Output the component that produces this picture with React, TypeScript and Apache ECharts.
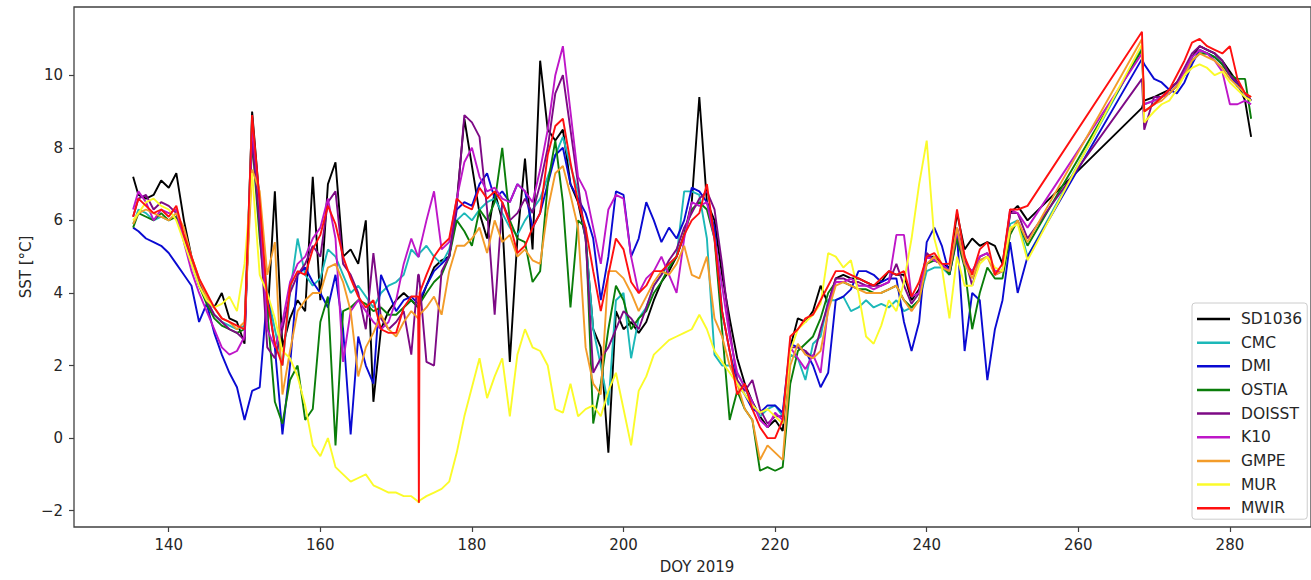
import React, { useEffect, useRef } from "react";
import * as echarts from "echarts";

// Day of year 2019 (shared x positions of all series)
const days = [
  135.3,
  136, 137, 138, 139, 140, 141, 142,
  143, 144, 145, 146, 147, 148, 149, 150,
  151, 152, 153, 154, 155, 156, 157, 158, 159, 160,
  161, 162, 163, 164, 165, 166, 167, 168, 169, 170, 171, 172,
  172.9, 173, 173.1,
  174, 175, 176, 177, 178, 179, 180, 181, 182, 183,
  184, 185, 186, 187, 188, 189, 190, 191, 192, 193,
  194, 195, 196, 197, 198, 199, 200, 201, 202, 203,
  204, 205, 206, 207, 208, 209, 210, 211, 212, 213,
  214, 215, 216, 217, 218, 219, 220, 221, 222, 223,
  224, 225, 226, 227, 228, 229, 230, 231, 232, 233,
  234, 235, 236, 237, 238, 239, 240, 241, 242, 243,
  244, 245, 246, 247, 248, 249, 250, 251, 252, 253.3,
  268.4, 268.7,
  270, 271, 272, 273, 274, 275, 276, 277, 278, 279, 280, 281, 282,
  282.8,
];

const sd1036 = [
  7.2,
  6.7, 6.6, 6.7, 7.1, 6.9, 7.3, 6.0,
  5.0, 4.3, 3.8, 3.6, 4.0, 3.3, 3.2, 2.6,
  9.0, 6.5, 3.2, 6.8, 2.5, 3.3, 3.8, 3.5, 7.2, 3.8,
  7.0, 7.6, 5.0, 5.2, 4.8, 6.0, 1.0, 3.0, 3.5, 3.8, 4.0, 3.8,
  3.6, 3.6, 3.7,
  4.2, 4.7, 4.9, 5.0, 6.5, 8.8, 7.5, 6.2, 5.5, 6.8,
  6.0, 2.1, 5.5, 7.7, 5.2, 10.4, 8.5, 8.2, 8.5, 7.0,
  6.5, 5.5, 3.0, 2.5, -0.4, 3.5, 3.0, 3.2, 2.9, 3.2,
  3.8, 4.3, 4.6, 5.0, 5.6, 6.5, 9.4, 6.5, 6.0, 4.5,
  3.3, 2.2, 1.5, 1.0, 0.6, 0.3, 0.5, 0.2, 2.5, 3.3,
  3.2, 3.5, 4.2, 3.7, 4.4, 4.5, 4.4, 4.4, 4.3, 4.2,
  4.3, 4.6, 4.5, 4.5, 3.8, 4.1, 5.0, 5.0, 4.8, 4.7,
  6.2, 5.2, 5.5, 5.3, 5.4, 5.3, 4.8, 6.2, 6.4, 6.0,
  9.1, 9.3,
  9.4, 9.5, 9.6, 9.8, 10.1, 10.5, 10.8, 10.7, 10.6, 10.4, 10.1, 9.8, 9.3,
  8.3,
];

const cmc = [
  5.9,
  6.3, 6.2, 6.0, 6.1, 6.0, 6.2, 5.5,
  4.8, 4.2, 3.8, 3.4, 3.2, 3.1, 3.0, 3.1,
  8.8, 6.0, 4.0, 3.0, 2.0, 4.0, 5.5, 4.5, 4.2, 4.4,
  5.2, 5.0, 4.5, 4.0, 4.2, 3.9, 3.6, 4.0, 4.2, 4.3, 4.5, 5.2,
  5.0, 5.0, 5.1,
  5.3, 5.0, 4.8, 5.2, 6.0, 6.2, 6.0, 6.3, 6.5, 6.6,
  6.2, 5.8, 5.6, 6.0, 6.3, 6.6, 7.2, 7.8, 8.3, 7.5,
  6.8, 5.5, 3.0, 2.0, 0.9, 3.8, 4.0, 2.2, 3.3, 3.6,
  4.2, 4.5, 4.8, 5.0, 6.8, 6.8, 6.7, 5.5, 2.3, 2.0,
  2.0, 1.8, 1.4, 0.9, 0.6, 0.8, 0.9, 0.6, 2.3, 2.2,
  1.6, 2.6, 2.8, 3.8, 3.8, 3.9, 3.5, 3.6, 3.8, 3.6,
  3.7, 3.6, 3.8, 3.5, 3.6, 3.8, 4.6, 4.7, 4.7, 4.5,
  5.6, 4.8, 4.6, 4.9, 5.0, 4.6, 4.6, 5.9, 6.0, 5.0,
  10.75, 9.2,
  9.3, 9.4, 9.5, 9.7, 10.0, 10.4, 10.6, 10.6, 10.5, 10.3, 10.0, 9.7, 9.5,
  9.3,
];

const dmi = [
  5.8,
  5.7, 5.5, 5.4, 5.3, 5.1, 4.8, 4.5,
  4.2, 3.2, 3.7, 2.9, 2.3, 1.8, 1.4, 0.5,
  1.3, 1.4, 4.0, 2.5, 0.1, 2.0, 4.5, 4.7, 4.3, 4.0,
  3.6, 4.5, 3.0, 0.1, 2.8, 2.0, 1.5, 4.5, 4.0, 3.5, 3.8, 3.9,
  3.7, 3.7, 3.8,
  4.2, 4.6, 4.8, 5.0, 6.3, 6.5, 6.4, 7.0, 7.3, 6.6,
  6.8, 6.5, 7.0, 6.8, 5.8, 6.2, 7.0, 7.8, 8.0, 7.0,
  6.6, 6.2, 5.5, 3.8, 5.0, 6.8, 6.7, 5.0, 5.5, 6.5,
  6.0, 5.4, 5.8, 5.5, 6.0, 6.9, 6.8, 6.5, 5.8, 3.5,
  2.4, 1.5, 1.2, 0.8, 0.7, 0.9, 0.9, 0.7, 2.6, 2.5,
  2.4, 2.0, 1.4, 1.8, 3.8, 3.9, 4.1, 4.6, 4.6, 4.5,
  4.3, 4.4, 4.4, 3.2, 2.4, 3.2, 5.4, 5.8, 5.3, 4.5,
  5.6, 2.4, 4.0, 3.8, 1.6, 3.0, 3.8, 5.4, 4.0, 5.0,
  10.45, 10.3,
  9.9, 9.8, 9.6, 9.5, 9.8, 10.3, 10.7, 10.6, 10.5, 10.3, 10.0, 9.7, 9.5,
  9.3,
];

const ostia = [
  5.8,
  6.2, 6.1, 6.0, 6.2, 6.0, 6.1, 5.5,
  4.9, 4.2, 3.7, 3.3, 3.1, 3.0, 2.9, 3.0,
  8.2, 5.5, 3.5, 1.0, 0.4, 1.6, 2.0, 0.5, 0.8, 3.2,
  3.9, -0.2, 3.5, 3.6, 3.8, 3.7, 3.5, 3.6, 3.4, 3.4, 3.6, 3.8,
  3.6, 3.6, 3.7,
  4.0, 4.3, 4.5, 5.0, 6.0, 5.7, 5.3, 6.3, 6.0, 6.5,
  8.0, 6.0, 5.5, 5.4, 4.3, 4.6, 7.0, 8.2, 6.5, 3.6,
  6.0, 5.8, 0.4, 1.5, 3.0, 4.2, 3.8, 3.0, 3.3, 3.5,
  4.0, 4.3, 4.7, 5.0, 5.6, 6.3, 6.5, 6.3, 5.5, 3.0,
  0.5, 1.3, 0.8, 0.5, -0.9, -0.8, -0.9, -0.8, 1.5, 2.4,
  2.6, 2.8, 3.3, 4.0, 4.3, 4.3, 4.2, 4.1, 4.1, 4.0,
  4.0, 4.1, 4.2, 3.8, 3.6, 3.8, 4.8, 4.9, 4.8, 4.5,
  5.5, 4.7, 3.0, 4.0, 4.7, 4.4, 4.4, 5.6, 6.0, 5.3,
  10.7, 9.0,
  9.2, 9.4, 9.5, 9.7, 10.0, 10.4, 10.6, 10.6, 10.5, 10.3, 10.0, 9.9, 9.9,
  8.8,
];

const doisst = [
  6.1,
  6.6, 6.7, 6.3, 6.5, 6.4, 6.2, 5.5,
  4.9, 4.3, 3.8, 3.4, 3.2, 3.0, 2.9, 2.7,
  8.3, 5.8, 2.5, 2.2, 3.0, 4.0, 4.5, 4.8, 5.3, 5.0,
  6.5, 6.8, 4.8, 4.5, 4.0, 3.0, 5.1, 3.3, 3.0, 3.2, 3.5, 2.3,
  4.5, 4.5, 4.3,
  2.1, 2.0, 4.6, 5.0, 6.4, 8.9, 8.7, 8.3, 6.3, 3.4,
  6.5, 6.0, 6.2, 6.6, 6.2, 7.0, 8.0, 9.5, 10.0, 8.5,
  7.0, 5.5, 1.8, 2.2, 2.5, 3.0, 3.5, 3.3, 3.0, 3.6,
  4.2, 4.5, 4.9, 5.2, 5.8, 6.2, 6.6, 6.8, 6.3, 4.8,
  3.0, 1.6, 1.3, 1.6, 0.8, 0.4, 0.6, 0.6, 2.5, 2.5,
  2.4, 2.2, 3.0, 3.7, 4.4, 4.4, 4.3, 4.3, 4.2, 4.2,
  4.2, 4.3, 4.8, 4.2, 3.7, 4.0, 5.1, 4.9, 4.8, 4.6,
  5.8, 5.0, 4.2, 5.0, 5.1, 4.5, 4.6, 6.2, 6.2, 5.5,
  9.9, 8.5,
  9.4, 9.4, 9.6, 9.8, 10.2, 10.6, 10.8, 10.7, 10.6, 10.4, 10.0, 9.8, 9.5,
  9.3,
];

const k10 = [
  6.3,
  6.8, 6.5, 6.0, 6.3, 6.2, 6.3, 5.4,
  4.6, 4.0, 3.5, 3.0, 2.5, 2.3, 2.4, 2.8,
  8.6, 6.5, 3.0, 2.5, 3.2, 4.3, 4.8, 5.0, 5.5, 5.8,
  6.6, 5.5, 2.1, 3.5, 3.8, 3.5, 3.2, 3.0, 3.2, 3.8, 4.8, 5.5,
  5.0, 5.0, 5.2,
  6.0, 6.8, 5.2, 5.4, 6.6, 7.6, 8.0, 7.2, 6.8, 6.9,
  6.6, 6.5, 7.0, 6.8, 6.5, 7.4, 8.5, 10.0, 10.8, 9.0,
  7.2, 6.8, 5.8, 4.8, 6.3, 6.7, 6.6, 5.0, 4.0, 4.4,
  4.6, 5.0, 4.5, 4.0, 5.5, 6.5, 6.4, 6.5, 5.5, 4.2,
  2.8, 1.8, 1.4, 1.0, 0.5, 0.3, 0.7, 0.5, 2.5, 2.2,
  1.9, 2.3, 1.8, 3.6, 4.3, 4.3, 4.4, 4.2, 4.2, 4.1,
  4.2, 4.3, 5.6, 5.6, 3.9, 4.0, 5.0, 4.9, 4.8, 4.6,
  5.7, 4.8, 4.6, 5.0, 5.1, 4.6, 4.6, 6.3, 6.2, 5.8,
  10.6, 9.2,
  9.3, 9.4, 9.5, 9.7, 10.1, 10.5, 10.7, 10.6, 10.4, 10.1, 9.2, 9.2, 9.3,
  9.2,
];

const gmpe = [
  5.9,
  6.2, 6.3, 6.2, 6.1, 6.0, 6.2, 5.8,
  5.0, 4.4, 3.9, 3.6, 3.3, 3.2, 3.0, 3.2,
  7.4, 6.8, 4.5, 5.4, 1.2, 2.4, 3.5, 3.8, 4.0, 4.0,
  4.7, 4.8, 4.3, 3.5, 1.7, 2.5, 2.9, 3.4, 3.0, 2.8, 3.2, 3.5,
  3.3, 3.3, 3.4,
  3.6, 3.9, 3.4, 4.6, 5.3, 5.3, 5.5, 5.8, 5.1, 6.0,
  5.4, 5.6, 5.0, 5.2, 4.9, 4.8, 6.3, 7.3, 7.5, 6.7,
  5.8, 2.5, 1.5, 1.2, 4.6, 4.6, 4.4, 4.0, 3.5, 3.9,
  4.3, 4.6, 4.5, 4.8, 5.3, 4.5, 4.4, 5.0, 3.3, 2.8,
  2.0, 1.5, 0.8, 0.5, -0.6, -0.2, -0.4, -0.6, 2.0, 2.6,
  2.3, 2.2, 2.4, 3.5, 4.2, 4.3, 4.2, 4.1, 4.0, 4.0,
  4.0, 4.1, 4.2, 3.8, 3.5, 3.8, 4.8, 5.0, 4.7, 4.6,
  5.8, 4.8, 4.4, 4.9, 5.0, 4.5, 4.6, 5.7, 6.0, 5.4,
  11.0, 9.0,
  9.2, 9.3, 9.5, 9.7, 10.0, 10.4, 10.6, 10.5, 10.4, 10.2, 9.9, 9.7, 9.5,
  9.4,
];

const mur = [
  6.0,
  6.2, 6.5, 6.6, 6.4, 6.3, 6.0, 5.4,
  4.8, 4.2, 3.8, 3.6, 3.7, 3.9, 3.5, 4.8,
  7.3, 4.5, 4.0, 3.3, 2.4, 2.2, 1.7, 0.9, -0.2, -0.5,
  0.0, -0.8, -1.0, -1.2, -1.1, -1.0, -1.3, -1.4, -1.5, -1.5, -1.6, -1.6,
  -1.75, -1.78, -1.72,
  -1.6, -1.5, -1.4, -1.2, -0.4, 0.6, 1.4, 2.2, 1.1, 1.7,
  2.2, 0.6, 2.3, 3.0, 2.5, 2.4, 2.0, 0.8, 0.7, 1.5,
  0.6, 0.8, 0.9, 0.6, 1.3, 1.8, 0.8, -0.2, 1.3, 1.7,
  2.3, 2.5, 2.7, 2.8, 2.9, 3.0, 3.4, 3.0, 2.4, 2.1,
  1.8, 1.5, 1.2, 0.9, 0.7, 0.8, 0.6, 0.4, 2.4, 3.0,
  3.2, 3.4, 3.7, 5.1, 5.0, 4.7, 4.9, 4.0, 2.8, 2.6,
  3.1, 3.8, 3.5, 4.3, 5.5, 7.0, 8.2, 5.5, 4.7, 3.3,
  5.0, 4.2, 4.2, 4.8, 5.0, 4.7, 4.6, 5.8, 5.9, 4.9,
  10.85, 8.7,
  9.0, 9.2, 9.3, 9.6, 10.0, 10.2, 10.3, 10.2, 10.0, 10.1, 9.8, 9.6, 9.4,
  9.3,
];

const mwir = [
  6.1,
  6.6, 6.4, 6.2, 6.3, 6.1, 6.4, 5.6,
  5.0, 4.4, 4.0, 3.6, 3.3, 3.2, 3.1, 3.0,
  8.9, 6.5, 3.8, 2.6, 2.0, 4.2, 4.6, 4.5, 5.2, 5.6,
  6.4, 5.9, 5.0, 4.4, 3.9, 3.6, 3.8, 3.0, 2.9, 2.9, 3.6, 3.9,
  3.9, -1.78, 4.0,
  4.5, 5.0, 5.3, 5.5, 6.6, 6.4, 6.3, 6.9, 6.6, 6.8,
  6.5, 5.9, 5.1, 5.3, 5.8, 6.2, 7.8, 8.6, 8.8, 7.6,
  6.5, 5.8, 4.6, 3.5, 4.5, 5.5, 5.2, 4.3, 4.0, 4.2,
  4.6, 4.6, 4.8, 5.0, 5.6, 6.0, 6.2, 7.0, 5.5, 3.5,
  2.4, 1.2, 1.5, 0.8, 0.3, 0.0, 0.0, 0.5, 2.8, 3.0,
  3.3, 3.4, 3.8, 4.2, 4.6, 4.6, 4.5, 4.4, 4.3, 4.2,
  4.4, 4.6, 4.5, 4.6, 3.9, 4.3, 5.0, 5.1, 4.8, 4.8,
  6.3, 5.0, 4.5, 5.2, 5.4, 4.5, 4.8, 6.3, 6.3, 6.4,
  11.2, 9.0,
  9.2, 9.4, 9.6, 10.0, 10.4, 10.9, 11.0, 10.8, 10.7, 10.6, 10.8, 9.9, 9.5,
  9.4,
];

const seriesNames = ["SD1036", "CMC", "DMI", "OSTIA", "DOISST", "K10", "GMPE", "MUR", "MWIR"];
const seriesColors = ["#000000", "#1cb8b8", "#0a0ad2", "#0a7d0a", "#7d0a85", "#be16c8", "#f39c2a", "#fbfb2a", "#ff1010"];
const xTicks = [140, 160, 180, 200, 220, 240, 260, 280];
const yTicks = [-2, 0, 2, 4, 6, 8, 10];

const FONT = "DejaVu Sans";
const TEXT = "#262626";
const SPINE = "#404040";

export default function App() {
  const ref = useRef<HTMLDivElement>(null);

  useEffect(() => {
    if (!ref.current) return;
    const chart = echarts.init(ref.current, null, { renderer: "svg" });
    const allValues = [sd1036, cmc, dmi, ostia, doisst, k10, gmpe, mur, mwir];

    chart.setOption({
      animation: false,
      backgroundColor: "#ffffff",
      textStyle: { fontFamily: FONT },
      grid: {
        left: 74,
        top: 7,
        width: 1248,
        height: 520,
        show: true,
        borderColor: SPINE,
        borderWidth: 1.3,
        backgroundColor: "transparent",
      },
      xAxis: {
        type: "value",
        min: 127.5,
        max: 290.7,
        position: "bottom",
        axisLine: { show: false, onZero: false },
        axisTick: { show: true, customValues: xTicks, length: 5, lineStyle: { color: SPINE, width: 1.2 } },
        axisLabel: { customValues: xTicks, margin: 10, fontSize: 15, color: TEXT, fontFamily: FONT },
        splitLine: { show: false },
      },
      yAxis: {
        type: "value",
        min: -2.45,
        max: 11.88,
        position: "left",
        axisLine: { show: false, onZero: false },
        axisTick: { show: true, customValues: yTicks, length: 5, lineStyle: { color: SPINE, width: 1.2 } },
        axisLabel: {
          customValues: yTicks,
          margin: 11,
          fontSize: 15,
          color: TEXT,
          fontFamily: FONT,
          formatter: (v: number) => (v < 0 ? "\u2212" + Math.abs(v) : String(v)),
        },
        splitLine: { show: false },
      },
      legend: {
        orient: "vertical",
        left: 1192,
        top: 303,
        data: seriesNames,
        icon: "rect",
        itemWidth: 33,
        itemHeight: 2.5,
        itemGap: 7.65,
        padding: [8, 5, 3, 5],
        backgroundColor: "rgba(255,255,255,0.85)",
        borderColor: "#cccccc",
        borderWidth: 1,
        borderRadius: 3,
        textStyle: { fontSize: 15.5, lineHeight: 15, color: TEXT, fontFamily: FONT, padding: [0, 0, 0, 6] },
      },
      graphic: [
        {
          type: "text",
          x: 26,
          y: 267,
          rotation: Math.PI / 2,
          style: { text: "SST [°C]", fontSize: 15, fill: TEXT, fontFamily: FONT, align: "center", verticalAlign: "middle" },
        },
        {
          type: "text",
          x: 697,
          y: 567,
          style: { text: "DOY 2019", fontSize: 15, fill: TEXT, fontFamily: FONT, align: "center", verticalAlign: "middle" },
        },
      ],
      series: seriesNames.map((name, i) => ({
        name,
        type: "line",
        showSymbol: false,
        symbol: "none",
        color: seriesColors[i],
        lineStyle: { width: 1.9, color: seriesColors[i] },
        data: days.map((d, j) => [d, allValues[i][j]]),
        z: 2 + i * 0.01,
      })),
    });

    return () => chart.dispose();
  }, []);

  return <div ref={ref} style={{ position: "fixed", left: 0, top: 0, width: 1311, height: 580 }} />;
}
